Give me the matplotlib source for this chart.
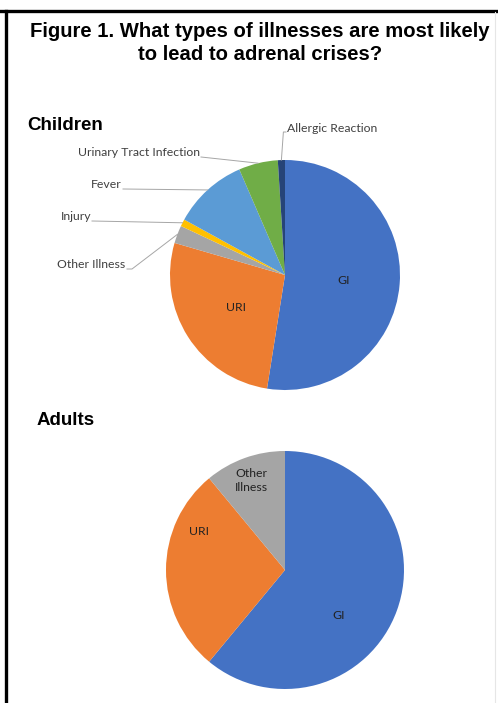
import numpy as np
import matplotlib
matplotlib.use("Agg")
import matplotlib.pyplot as plt
from matplotlib.lines import Line2D

W, H = 498, 703

child_labels = ["GI", "URI", "Other Illness", "Injury", "Fever",
                "Urinary Tract Infection", "Allergic Reaction"]
child_values = [52.5, 27.0, 2.5, 1.0, 10.5, 5.5, 1.0]
child_colors = ["#4472C4", "#ED7D31", "#A5A5A5", "#FFC000", "#5B9BD5",
                "#70AD47", "#264478"]

adult_labels = ["GI", "URI", "Other\nIllness"]
adult_values = [61.0, 28.0, 11.0]
adult_colors = ["#4472C4", "#ED7D31", "#A5A5A5"]

label_font = "Lato"
label_color = "#404040"
label_size = 8.8


def fpx(x, y):
    # pixel (from top-left) -> figure fraction
    return x / W, 1 - y / H


def pie_axes(fig, cx, cy, r):
    ax = fig.add_axes([(cx - r) / W, 1 - (cy + r) / H, 2 * r / W, 2 * r / H])
    return ax


fig = plt.figure(figsize=(W / 100, H / 100), dpi=100)
fig.patch.set_facecolor("white")

# frame
fig.add_artist(Line2D([0, 1], [1 - 10.5 / H, 1 - 10.5 / H], color="black", lw=2.4,
                      transform=fig.transFigure))
fig.add_artist(Line2D([5.5 / W, 5.5 / W], [0, 1 - 10.5 / H], color="black", lw=2.4,
                      transform=fig.transFigure))
fig.add_artist(Line2D([495 / W, 495 / W], [0, 1 - 12 / H], color="#e6e6e6", lw=0.8,
                      transform=fig.transFigure))

fig.text(*fpx(260, 43), "Figure 1. What types of illnesses are most likely\nto lead to adrenal crises?",
         ha="center", va="center", fontsize=14.6, fontweight="bold",
         family="Liberation Sans", linespacing=1.3)

fig.text(*fpx(27, 125), "Children", ha="left", va="center", fontsize=13.5,
         fontweight="bold", family="Liberation Sans")
fig.text(*fpx(37, 420), "Adults", ha="left", va="center", fontsize=13.5,
         fontweight="bold", family="Liberation Sans")

# children pie
ax1 = pie_axes(fig, 285, 275, 115)
wedges1, _ = ax1.pie(child_values, colors=child_colors, startangle=90,
                     counterclock=False, radius=1,
                     wedgeprops=dict(linewidth=0))
ax1.set_xlim(-1, 1)
ax1.set_ylim(-1, 1)
ax1.set_aspect("auto")
ax1.axis("off")

ax1.text(0.51, -0.05, "GI", ha="center", va="center", fontsize=label_size,
         family=label_font, color="#222222")
ax1.text(-0.43, -0.28, "URI", ha="center", va="center", fontsize=label_size,
         family=label_font, color="#222222")

# outside labels: text x, text y (px), alignment
outside = {
    "Allergic Reaction": (287, 129, "left"),
    "Urinary Tract Infection": (200, 153, "right"),
    "Fever": (122, 185, "right"),
    "Injury": (91, 217, "right"),
    "Other Illness": (125, 265, "right"),
}
for i, name in enumerate(child_labels):
    if name not in outside:
        continue
    w = wedges1[i]
    mid = np.deg2rad((w.theta1 + w.theta2) / 2)
    ex, ey = np.cos(mid), np.sin(mid)
    tx, ty, ha = outside[name]
    fig.text(*fpx(tx, ty), name, ha=ha, va="center", fontsize=label_size,
             family=label_font, color=label_color)
    # leader line anchor on the wedge edge (pixels)
    px_e = 285 + 115 * ex
    py_e = 275 - 115 * ey
    if name == "Allergic Reaction":
        xs = [px_e, px_e + 2, tx - 1]
        ys = [py_e, ty + 3, ty + 3]
    elif name == "Other Illness":
        xs = [tx + 2, tx + 7, px_e]
        ys = [ty + 4, ty + 4, py_e]
    else:
        xs = [tx + 1, px_e]
        ys = [ty + 4, py_e]
    fig.add_artist(Line2D([x / W for x in xs], [1 - y / H for y in ys],
                          color="#a6a6a6", lw=0.7, transform=fig.transFigure))

# adults pie
ax2 = pie_axes(fig, 285, 570, 119)
wedges2, _ = ax2.pie(adult_values, colors=adult_colors, startangle=90,
                     counterclock=False, radius=1,
                     wedgeprops=dict(linewidth=0))
ax2.set_xlim(-1, 1)
ax2.set_ylim(-1, 1)
ax2.set_aspect("auto")
ax2.axis("off")

adult_pos = [(0.45, -0.38), (-0.72, 0.32), (-0.28, 0.75)]
for name, (x, y) in zip(adult_labels, adult_pos):
    ax2.text(x, y, name, ha="center", va="center", fontsize=label_size,
             family=label_font, color="#222222", linespacing=1.3)

fig.savefig("out.png", dpi=100, facecolor="white")
